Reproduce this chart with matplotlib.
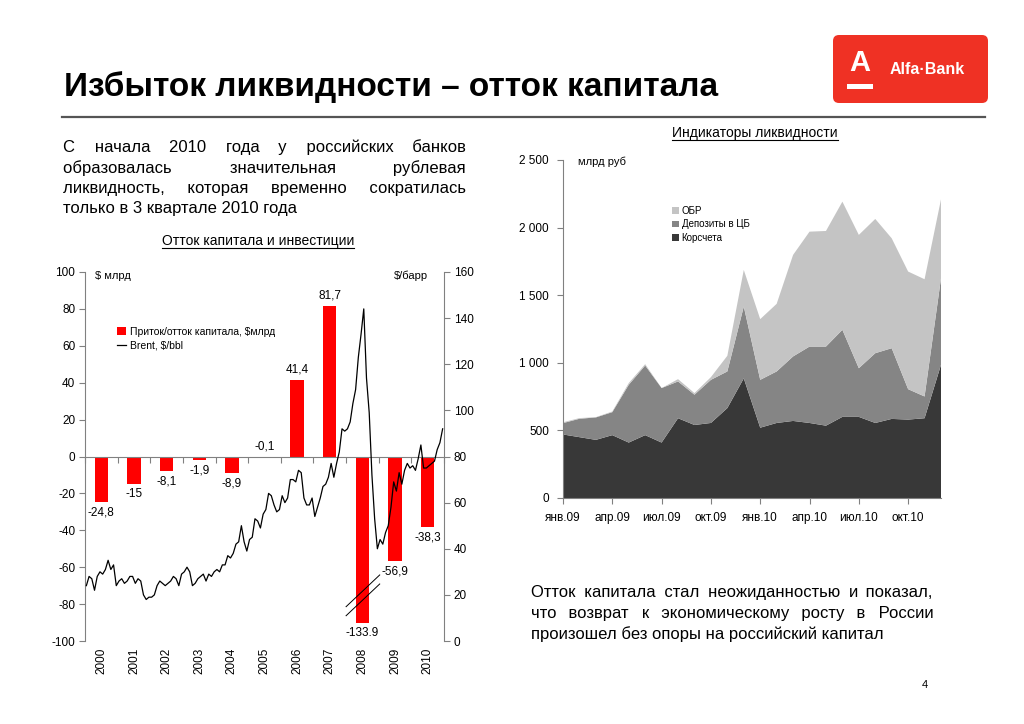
import matplotlib
matplotlib.use('Agg')
import matplotlib.pyplot as plt
import matplotlib.transforms as mtransforms
from matplotlib.patches import FancyBboxPatch, Rectangle, Patch
from matplotlib.lines import Line2D
from matplotlib.font_manager import FontProperties
import numpy as np

plt.rcParams['font.family'] = ['Liberation Sans', 'DejaVu Sans']
plt.rcParams['axes.unicode_minus'] = False

# ---------------- data ----------------
years = ['2000', '2001', '2002', '2003', '2004', '2005', '2006', '2007', '2008', '2009', '2010']
capital_flow = [-24.8, -15, -8.1, -1.9, -8.9, -0.1, 41.4, 81.7, -133.9, -56.9, -38.3]
flow_labels = ['-24,8', '-15', '-8,1', '-1,9', '-8,9', '-0,1', '41,4', '81,7', '-133.9', '-56,9', '-38,3']
bar_floor = -90   # 2008 bar is drawn truncated with break marks

brent_2000 = [24, 28, 27, 22, 28, 30, 29, 31, 35, 31, 33, 24]
brent_2001 = [26, 27, 25, 26, 28, 28, 25, 27, 26, 20, 18, 19]
brent_2002 = [19, 20, 24, 26, 25, 24, 25, 26, 28, 27, 24, 29]
brent_2003 = [30, 32, 30, 24, 25, 27, 28, 29, 26, 29, 28, 30]
brent_2004 = [31, 30, 33, 33, 37, 36, 38, 42, 43, 50, 43, 39]
brent_2005 = [44, 45, 53, 52, 49, 55, 57, 64, 63, 59, 56, 57]
brent_2006 = [63, 60, 62, 70, 70, 69, 74, 73, 62, 59, 59, 62]
brent_2007 = [54, 58, 62, 67, 68, 71, 77, 71, 77, 82, 92, 91]
brent_2008 = [92, 95, 103, 109, 123, 133, 144, 114, 99, 72, 53, 40]
brent_2009 = [44, 42, 47, 50, 58, 69, 65, 73, 68, 74, 77, 75]
brent_2010 = [76, 74, 79, 85, 75, 75, 76, 77, 78, 83, 86, 92]
brent = (brent_2000 + brent_2001 + brent_2002 + brent_2003 + brent_2004 + brent_2005 +
         brent_2006 + brent_2007 + brent_2008 + brent_2009 + brent_2010)

liq_ticklabels = ['янв.09', 'апр.09', 'июл.09', 'окт.09', 'янв.10', 'апр.10', 'июл.10', 'окт.10']
korschet = [470, 450, 430, 465, 410, 465, 410, 590, 540, 555, 665, 885,
            520, 555, 570, 555, 535, 600, 600, 555, 585, 580, 590, 985]
deposits = [84, 136, 166, 170, 427, 515, 403, 272, 224, 319, 271, 531,
            354, 381, 477, 565, 585, 644, 360, 516, 523, 225, 161, 640]
obr = [6, 5, 2, 5, 13, 10, 0, 17, 12, 20, 116, 271,
       449, 500, 751, 850, 855, 948, 986, 993, 813, 870, 867, 584]

# ---------------- figure ----------------
W, H = 1024, 724
fig = plt.figure(figsize=(W / 100, H / 100), dpi=100)
fig.patch.set_facecolor('white')

def fx(px):
    return px / W

def fy(py):
    return 1 - py / H

GRAY = '#808080'

# title
fig.text(fx(64), fy(96), 'Избыток ликвидности – отток капитала',
         fontsize=24, fontweight='bold', va='baseline', ha='left')
fig.add_artist(Line2D([fx(62), fx(985)], [fy(117), fy(117)], color='#555555', lw=1.6))

# logo
logo = FancyBboxPatch((8.33, (H - 103) / 100), 1.55, 0.68,
                      boxstyle='round,pad=0,rounding_size=0.06',
                      transform=fig.dpi_scale_trans, facecolor='#EF3124', edgecolor='none')
fig.add_artist(logo)
fig.text(fx(860), fy(63), 'A', color='white', fontsize=21, fontweight='bold',
         ha='center', va='center')
fig.add_artist(Rectangle((8.47, (H - 89) / 100), 0.26, 0.055, transform=fig.dpi_scale_trans,
                         facecolor='white', edgecolor='none'))
fig.text(fx(927), fy(70), 'Alfa·Bank', color='white', fontsize=11.5, fontweight='bold',
         ha='center', va='center')

renderer = fig.canvas.get_renderer()
PFAM = ['Liberation Sans', 'DejaVu Sans']

def text_w(s, fp):
    return renderer.get_text_width_height_descent(s, fp, ismath=False)[0]

def justify(lines, x0, x1, y0, dy, size, last_justified=False):
    fp = FontProperties(family=PFAM, size=size)
    base = text_w('xx', fp)
    sp = text_w('x x', fp) - base
    hair = text_w('x\u200ax', fp) - base
    for k, line in enumerate(lines):
        y = fy(y0 + k * dy)
        words = line.split(' ')
        if k == len(lines) - 1 and not last_justified:
            fig.text(fx(x0), y, line, fontsize=size, va='baseline', ha='left', family=PFAM)
            continue
        wsum = sum(text_w(w, fp) for w in words)
        total_gap = (x1 - x0) - wsum
        ngaps = len(words) - 1
        s = words[0]
        used = 0.0
        for j, w in enumerate(words[1:], start=1):
            target = total_gap * j / ngaps - used
            n = max(1, int(target // sp))
            rem = target - n * sp
            m = max(0, int(round(rem / hair))) if hair > 0 else 0
            s += ' ' * n + '\u200a' * m + w
            used += n * sp + m * hair
        fig.text(fx(x0), y, s, fontsize=size, va='baseline', ha='left', family=PFAM)

justify(['С начала 2010 года у российских банков',
         'образовалась значительная рублевая',
         'ликвидность, которая временно сократилась',
         'только в 3 квартале 2010 года'], 63, 466, 152, 20.5, 12)

justify(['Отток капитала стал неожиданностью и показал,',
         'что возврат к экономическому росту в России',
         'произошел без опоры на российский капитал'], 531, 933, 597, 21, 12)

def underlined(x, y, s, size):
    t = fig.text(fx(x), fy(y), s, fontsize=size, ha='center', va='center')
    bb = t.get_window_extent(renderer)
    fig.add_artist(Line2D([bb.x0 / W, bb.x1 / W], [(bb.y0 + 0.5) / H, (bb.y0 + 0.5) / H],
                          color='black', lw=0.8))

underlined(258, 241, 'Отток капитала и инвестиции', 10)
underlined(755, 133, 'Индикаторы ликвидности', 10)

fig.text(fx(925), fy(685), '4', fontsize=8, ha='center', va='center')

# ---------------- left chart ----------------
ax = fig.add_axes([fx(85), fy(641), fx(444) - fx(85), (641 - 272) / H])
x = np.arange(len(years))
heights = [max(v, bar_floor) for v in capital_flow]
ax.bar(x, heights, width=0.41, color='#FF0000', zorder=2)
ax.set_xlim(-0.5, len(years) - 0.5)
ax.set_ylim(-100, 100)
ax.set_yticks(np.arange(-100, 101, 20))
ax.set_xticks(np.arange(-0.5, len(years), 1.0))
ax.set_xticklabels([])
ax.tick_params(axis='x', length=4, color=GRAY, direction='out')
ax.tick_params(axis='y', length=4, color=GRAY, labelsize=8.5, pad=3)
for s in ['top', 'right']:
    ax.spines[s].set_visible(False)
ax.spines['bottom'].set_position(('data', 0))
ax.spines['bottom'].set_color(GRAY)
ax.spines['left'].set_color(GRAY)
ax.patch.set_visible(False)

tr = mtransforms.blended_transform_factory(ax.transData, ax.transAxes)
for i, yr in enumerate(years):
    ax.text(i, -0.018, yr, rotation=90, ha='center', va='top', fontsize=8.5, transform=tr)

for i, (v, lab) in enumerate(zip(capital_flow, flow_labels)):
    hv = max(v, bar_floor)
    if v >= 0 or abs(v) < 1:
        ax.annotate(lab, (i, max(hv, 0)), xytext=(0, 3), textcoords='offset points',
                    ha='center', va='bottom', fontsize=8.5)
    else:
        ax.annotate(lab, (i, hv), xytext=(0, -3), textcoords='offset points',
                    ha='center', va='top', fontsize=8.5)

# break marks on the truncated bar
ib = int(np.argmin(capital_flow))
for off in (0, -4.9):
    ax.plot([ib - 0.5, ib + 0.53], [bar_floor + 8.6 + off, bar_floor + 25.8 + off],
            color='black', lw=0.7, zorder=5)

ax.text(0.028, 0.99, '$ млрд', transform=ax.transAxes, fontsize=8, va='center', ha='left')
ax.text(0.955, 0.99, '$/барр', transform=ax.transAxes, fontsize=8, va='center', ha='right')

ax2 = ax.twinx()
xm = np.array([yi + (m + 0.5) / 12 - 0.5 for yi in range(len(years)) for m in range(12)])
ax2.plot(xm, brent, color='black', lw=0.9, zorder=3)
ax2.set_ylim(0, 160)
ax2.set_yticks(np.arange(0, 161, 20))
ax2.tick_params(axis='y', length=4, color=GRAY, labelsize=8.5, pad=3)
for s in ['top', 'left', 'bottom']:
    ax2.spines[s].set_visible(False)
ax2.spines['right'].set_color(GRAY)

handles = [Patch(facecolor='#FF0000', edgecolor='none'),
           Line2D([0], [0], color='black', lw=0.9)]
fig.legend(handles, ['Приток/отток капитала, $млрд', 'Brent, $/bbl'],
           loc='upper left', bbox_to_anchor=(fx(117), fy(327)), frameon=False,
           fontsize=7.5, handlelength=0.9, handleheight=0.8, handletextpad=0.3,
           labelspacing=0.35, borderpad=0, borderaxespad=0)

# ---------------- right chart ----------------
axr = fig.add_axes([fx(563), fy(498), fx(941) - fx(563), (498 - 160) / H])
t = np.arange(len(korschet))
cols = ['#383838', '#858585', '#c4c4c4']
axr.stackplot(t, korschet, deposits, obr, colors=cols, linewidth=0)
axr.set_xlim(0, len(korschet) - 1)
axr.set_ylim(0, 2500)
axr.set_yticks(np.arange(0, 2501, 500))
axr.set_yticklabels([f'{v:,}'.replace(',', '\u00a0') for v in range(0, 2501, 500)])
axr.set_xticks(np.arange(0, len(korschet), 3))
axr.set_xticklabels(liq_ticklabels)
axr.tick_params(axis='both', length=4, color=GRAY, labelsize=8.5)
axr.tick_params(axis='y', pad=6)
axr.tick_params(axis='x', pad=6)
for s in ['top', 'right']:
    axr.spines[s].set_visible(False)
axr.spines['left'].set_color(GRAY)
axr.spines['bottom'].set_color(GRAY)
axr.text(0.04, 0.994, 'млрд руб', transform=axr.transAxes, fontsize=8, va='center', ha='left')

lh = [Patch(facecolor=cols[2]), Patch(facecolor=cols[1]), Patch(facecolor=cols[0])]
fig.legend(lh, ['ОБР', 'Депозиты в ЦБ', 'Корсчета'], loc='upper left',
           bbox_to_anchor=(fx(672), fy(206)), frameon=False, fontsize=7,
           handlelength=0.7, handleheight=0.7, handletextpad=0.3,
           labelspacing=0.35, borderpad=0, borderaxespad=0)

fig.savefig('out.png', dpi=100, facecolor='white')
